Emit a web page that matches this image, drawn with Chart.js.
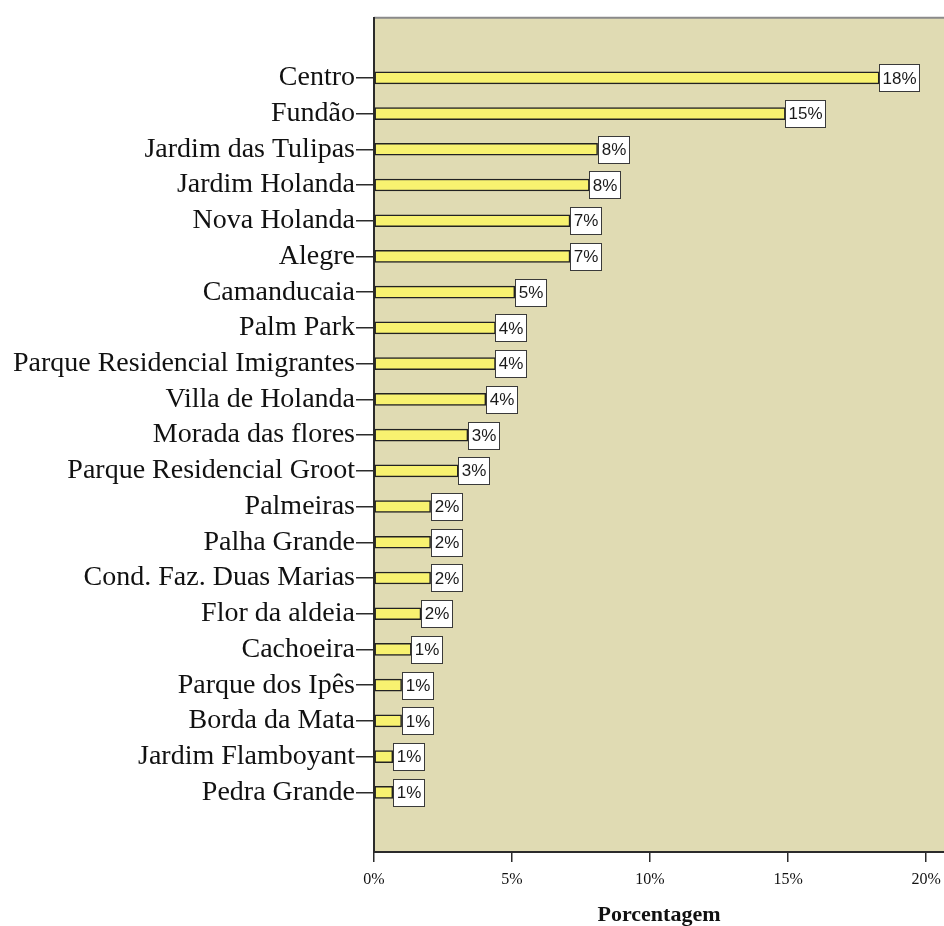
<!DOCTYPE html>
<html>
<head>
<meta charset="utf-8">
<script src="https://cdn.jsdelivr.net/npm/chart.js@4"></script>
<style>
  html, body { margin: 0; padding: 0; background: #ffffff; }
  #wrap { width: 944px; height: 926px; }
</style>
</head>
<body>
<div id="wrap"><canvas id="bairros"></canvas></div>
<script>
// neighbourhoods, top to bottom
const bairros = [
    'Centro', 'Fundão', 'Jardim das Tulipas', 'Jardim Holanda', 'Nova Holanda',
    'Alegre', 'Camanducaia', 'Palm Park', 'Parque Residencial Imigrantes',
    'Villa de Holanda', 'Morada das flores', 'Parque Residencial Groot',
    'Palmeiras', 'Palha Grande', 'Cond. Faz. Duas Marias', 'Flor da aldeia',
    'Cachoeira', 'Parque dos Ipês', 'Borda da Mata', 'Jardim Flamboyant', 'Pedra Grande'
];
// share of respondents (%)
const porcentagem = [
    18.3, 14.9, 8.1, 7.8, 7.1,
    7.1, 5.1, 4.4, 4.4,
    4.05, 3.4, 3.05,
    2.05, 2.05, 2.05, 1.7,
    1.35, 1.0, 1.0, 0.68, 0.68
];
const xTicks = [0, 5, 10, 15, 20];

const INK = '#2b2b2b';

// plot background + light top frame
const plotBg = {
    id: 'plotBg',
    beforeDraw(chart) {
        const { ctx, chartArea: a } = chart;
        ctx.save();
        ctx.fillStyle = '#e0dbb3';
        ctx.fillRect(a.left, a.top, a.right - a.left, a.bottom - a.top);
        ctx.strokeStyle = '#8a8a8a';
        ctx.lineWidth = 2;
        ctx.beginPath();
        ctx.moveTo(a.left, a.top);
        ctx.lineTo(a.right, a.top);
        ctx.stroke();
        ctx.restore();
    }
};

// boxed percentage at the end of every bar
const valueBoxes = {
    id: 'valueBoxes',
    afterDatasetsDraw(chart) {
        const { ctx } = chart;
        const meta = chart.getDatasetMeta(0);
        ctx.save();
        ctx.font = '17px "Liberation Sans", Arial, sans-serif';
        ctx.textAlign = 'center';
        ctx.textBaseline = 'middle';
        meta.data.forEach((bar, i) => {
            const txt = Math.round(porcentagem[i]) + '%';
            const w = Math.round(ctx.measureText(txt).width) + 6;
            const h = 27;
            const x = Math.round(bar.x) + 0.5;
            const y = Math.round(bar.y - h / 2) + 0.5;
            ctx.fillStyle = '#ffffff';
            ctx.fillRect(x, y, w, h);
            ctx.strokeStyle = '#3a3a3a';
            ctx.lineWidth = 1;
            ctx.strokeRect(x, y, w, h);
            ctx.fillStyle = '#1a1a1a';
            ctx.fillText(txt, x + w / 2, bar.y + 1);
        });
        ctx.restore();
    }
};

new Chart(document.getElementById('bairros'), {
    type: 'bar',
    data: {
        datasets: [{
            data: porcentagem.map((v, i) => ({ x: v, y: i })),
            backgroundColor: '#f8f270',
            borderColor: '#222222',
            borderWidth: 1.5,
            borderSkipped: false,
            barThickness: 12
        }]
    },
    options: {
        indexAxis: 'y',
        responsive: true,
        maintainAspectRatio: false,
        animation: false,
        layout: { padding: { top: 15, right: 0, left: 0, bottom: 0 } },
        plugins: {
            legend: { display: false },
            tooltip: { enabled: false }
        },
        scales: {
            x: {
                type: 'linear',
                position: 'bottom',
                min: 0,
                max: 20.65,
                afterBuildTicks: s => { s.ticks = xTicks.map(v => ({ value: v })); },
                afterFit: s => { s.height = 74; s.paddingRight = 0; s.paddingLeft = 0; },
                grid: { drawOnChartArea: false, tickLength: 10, color: INK, lineWidth: 1.5 },
                border: { color: INK, width: 2 },
                ticks: {
                    color: '#111',
                    padding: 8,
                    maxRotation: 0,
                    font: { family: '"Liberation Serif", serif', size: 16 },
                    callback: v => v + '%'
                },
                title: {
                    display: true,
                    text: 'Porcentagem',
                    color: '#111',
                    padding: { top: 0, bottom: -3 },
                    font: { family: '"Liberation Serif", serif', size: 22, weight: 'bold' }
                }
            },
            y: {
                type: 'linear',
                reverse: true,
                offset: false,
                min: -1.68,
                max: 21.67,
                afterBuildTicks: s => { s.ticks = bairros.map((_, i) => ({ value: i })); },
                afterFit: s => { s.width = 374; },
                grid: { offset: false, drawOnChartArea: false, tickLength: 18, color: INK, lineWidth: 1.5 },
                border: { color: INK, width: 2 },
                ticks: {
                    color: '#111',
                    padding: 1,
                    font: { family: '"Liberation Serif", serif', size: 28 },
                    callback: v => bairros[v] ?? ''
                }
            }
        }
    },
    plugins: [plotBg, valueBoxes]
});
</script>
</body>
</html>
